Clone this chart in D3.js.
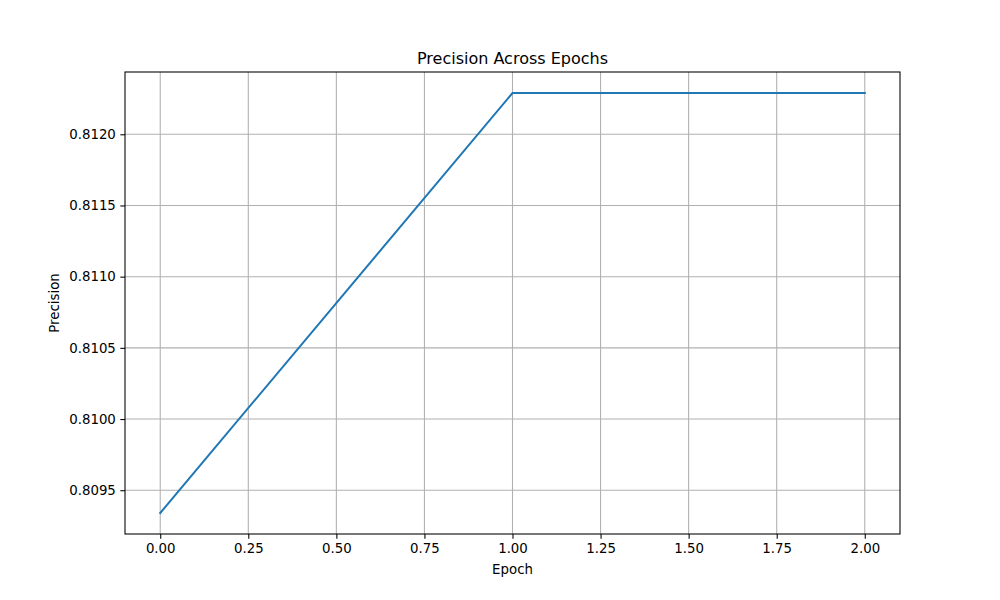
<!DOCTYPE html>
<html>
<head>
<meta charset="utf-8">
<script src="https://cdn.jsdelivr.net/npm/d3@7"></script>
<style>
  body { margin: 0; background: #fff; }
  svg { font-family: "DejaVu Sans", sans-serif; }
</style>
</head>
<body>
<svg width="1000" height="600"></svg>
<script>
const epochs = [0, 1, 2];
const precision = [0.80934, 0.81229, 0.81229];
const xTicks = [0, 0.25, 0.5, 0.75, 1, 1.25, 1.5, 1.75, 2];
const yTicks = [0.8095, 0.81, 0.8105, 0.811, 0.8115, 0.812];

const svg = d3.select("svg");
const plotLeft = 125, plotRight = 900, plotTop = 72, plotBottom = 534;

// matplotlib-style 5% margins
const yMin = d3.min(precision), yMax = d3.max(precision);
const yPad = (yMax - yMin) * 0.05;

const x = d3.scaleLinear().domain([-0.1, 2.1]).range([plotLeft, plotRight]);
const y = d3.scaleLinear().domain([yMin - yPad, yMax + yPad]).range([plotBottom, plotTop]);

// grid
svg.append("g")
  .selectAll("line")
  .data(xTicks)
  .join("line")
  .attr("x1", d => x(d)).attr("x2", d => x(d))
  .attr("y1", plotTop).attr("y2", plotBottom)
  .attr("stroke", "#b0b0b0").attr("stroke-width", 1.07);

svg.append("g")
  .selectAll("line")
  .data(yTicks)
  .join("line")
  .attr("x1", plotLeft).attr("x2", plotRight)
  .attr("y1", d => y(d)).attr("y2", d => y(d))
  .attr("stroke", "#b0b0b0").attr("stroke-width", 1.07);

// line
svg.append("path")
  .datum(epochs.map((e, i) => [e, precision[i]]))
  .attr("fill", "none")
  .attr("stroke", "#1f77b4")
  .attr("stroke-width", 2)
  .attr("stroke-linecap", "square")
  .attr("d", d3.line().x(d => x(d[0])).y(d => y(d[1])));

// axes
const xAxis = svg.append("g")
  .attr("transform", `translate(0,${plotBottom})`)
  .call(d3.axisBottom(x).tickValues(xTicks).tickSize(4.67).tickPadding(4.5)
    .tickFormat(d3.format(".2f")));

const yAxis = svg.append("g")
  .attr("transform", `translate(${plotLeft},0)`)
  .call(d3.axisLeft(y).tickValues(yTicks).tickSize(4.67).tickPadding(4.5)
    .tickFormat(d3.format(".4f")));

[xAxis, yAxis].forEach(g => {
  g.select(".domain").remove();
  g.selectAll("line").attr("stroke", "#000").attr("stroke-width", 1.07);
  g.selectAll("text").attr("font-size", 13.33).attr("fill", "#000")
    .attr("font-family", "DejaVu Sans, sans-serif");
});

// frame
svg.append("rect")
  .attr("x", plotLeft).attr("y", plotTop)
  .attr("width", plotRight - plotLeft).attr("height", plotBottom - plotTop)
  .attr("fill", "none").attr("stroke", "#000").attr("stroke-width", 1.07);

// labels
svg.append("text")
  .attr("x", (plotLeft + plotRight) / 2).attr("y", 64)
  .attr("text-anchor", "middle").attr("font-size", 16)
  .text("Precision Across Epochs");

svg.append("text")
  .attr("x", (plotLeft + plotRight) / 2).attr("y", 574)
  .attr("text-anchor", "middle").attr("font-size", 13.33)
  .text("Epoch");

svg.append("text")
  .attr("transform", `translate(59,${(plotTop + plotBottom) / 2}) rotate(-90)`)
  .attr("text-anchor", "middle").attr("font-size", 13.33)
  .text("Precision");
</script>
</body>
</html>
